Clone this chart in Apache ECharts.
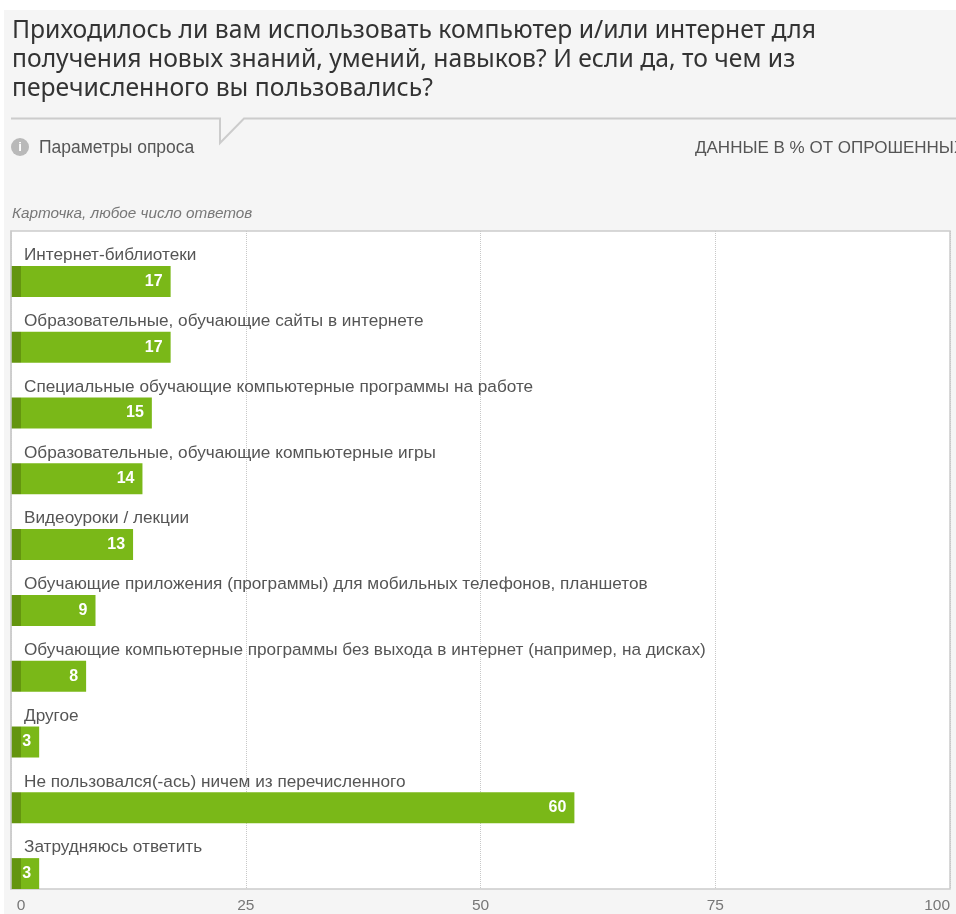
<!DOCTYPE html>
<html>
<head>
<meta charset="utf-8">
<script src="https://cdn.jsdelivr.net/npm/echarts@6/dist/echarts.min.js"></script>
<style>
    html, body { margin: 0; padding: 0; background: #fff; overflow: hidden; }
    #panel { position: absolute; left: 4px; top: 10px; width: 952px; height: 904px; background: #f5f5f5; }
    #chart { position: absolute; left: 0; top: 0; width: 956px; height: 914px; }
</style>
</head>
<body>
<div id="panel"></div>
<div id="chart"></div>
<script>
var titleLines = [
    'Приходилось ли вам использовать компьютер и/или интернет для',
    'получения новых знаний, умений, навыков? И если да, то чем из',
    'перечисленного вы пользовались?'
];
var categories = [
    'Интернет-библиотеки',
    'Образовательные, обучающие сайты в интернете',
    'Специальные обучающие компьютерные программы на работе',
    'Образовательные, обучающие компьютерные игры',
    'Видеоуроки / лекции',
    'Обучающие приложения (программы) для мобильных телефонов, планшетов',
    'Обучающие компьютерные программы без выхода в интернет (например, на дисках)',
    'Другое',
    'Не пользовался(-ась) ничем из перечисленного',
    'Затрудняюсь ответить'
];
var values = [17, 17, 15, 14, 13, 9, 8, 3, 60, 3];

var font = '"Liberation Sans", Arial, sans-serif';
var chart = echarts.init(document.getElementById('chart'));

// dark stub at the start of every bar
var barColor = new echarts.graphic.LinearGradient(11, 0, 950, 0, [
    { offset: 0, color: '#64950f' },
    { offset: 0.0106, color: '#64950f' },
    { offset: 0.0106, color: '#7ab818' },
    { offset: 1, color: '#7ab818' }
], true);

chart.setOption({
    animation: false,
    title: {
        text: titleLines.join('\n'),
        left: 7,
        top: 11,
        textStyle: { fontFamily: '"Noto Sans", sans-serif', fontSize: 24.7, fontWeight: 'normal', color: '#333', lineHeight: 29 }
    },
    grid: {
        left: 11, right: 6, top: 231, bottom: 24,
        show: true,
        backgroundColor: '#fff',
        borderColor: '#ccc',
        borderWidth: 1.5
    },
    xAxis: {
        type: 'value',
        min: 0,
        max: 100,
        interval: 25,
        axisLine: { show: false },
        axisTick: { show: false },
        splitLine: { lineStyle: { type: 'dotted', color: '#c8c8c8' } },
        axisLabel: {
            color: '#777',
            fontFamily: font,
            fontSize: 15.5,
            margin: 9,
            alignMaxLabel: 'right',
            formatter: function (v) { return v === 0 ? '{zero|0}' : String(v); },
            rich: { zero: { color: '#777', fontFamily: font, fontSize: 15.5, padding: [0, 0, 0, 20] } }
        }
    },
    yAxis: {
        type: 'category',
        inverse: true,
        z: 3,
        data: categories,
        axisLine: { show: true, lineStyle: { color: '#ccc', width: 1.5 } },
        axisTick: { show: false },
        axisLabel: {
            inside: true,
            margin: 13,
            color: '#555',
            fontFamily: font,
            fontSize: 17.2,
            verticalAlign: 'bottom'
        }
    },
    series: [
        {
            // empty slot, pushes the real bar to the bottom of its band
            name: 'spacer',
            type: 'bar',
            silent: true,
            barWidth: 31,
            barGap: '13%',
            itemStyle: { opacity: 0 },
            data: values
        },
        {
            name: 'Данные в %',
            type: 'bar',
            barWidth: 31,
            itemStyle: { color: barColor },
            label: {
                show: true,
                position: 'insideRight',
                distance: 8,
                color: '#fff',
                fontFamily: font,
                fontSize: 16,
                fontWeight: 'bold'
            },
            data: values
        }
    ],
    graphic: [
        { type: 'polyline', shape: { points: [[11, 118.5], [220, 118.5], [220, 143], [244, 118.5], [956, 118.5]] }, style: { stroke: '#ccc', lineWidth: 2, fill: null } },
        { type: 'circle', shape: { cx: 20, cy: 147, r: 9 }, style: { fill: '#b9b9b9' } },
        { type: 'text', x: 20, y: 147, style: { text: 'i', fill: '#fff', font: 'bold 13px ' + font, align: 'center', verticalAlign: 'middle' } },
        { type: 'text', x: 39, y: 148, style: { text: 'Параметры опроса', fill: '#555', font: '17.5px ' + font, verticalAlign: 'middle' } },
        { type: 'text', x: 695, y: 148, style: { text: 'ДАННЫЕ В % ОТ ОПРОШЕННЫХ', fill: '#555', font: '17px ' + font, verticalAlign: 'middle' } },
        { type: 'text', x: 12, y: 214, style: { text: 'Карточка, любое число ответов', fill: '#777', font: 'italic 15.3px ' + font, verticalAlign: 'middle' } }
    ]
});
</script>
</body>
</html>
